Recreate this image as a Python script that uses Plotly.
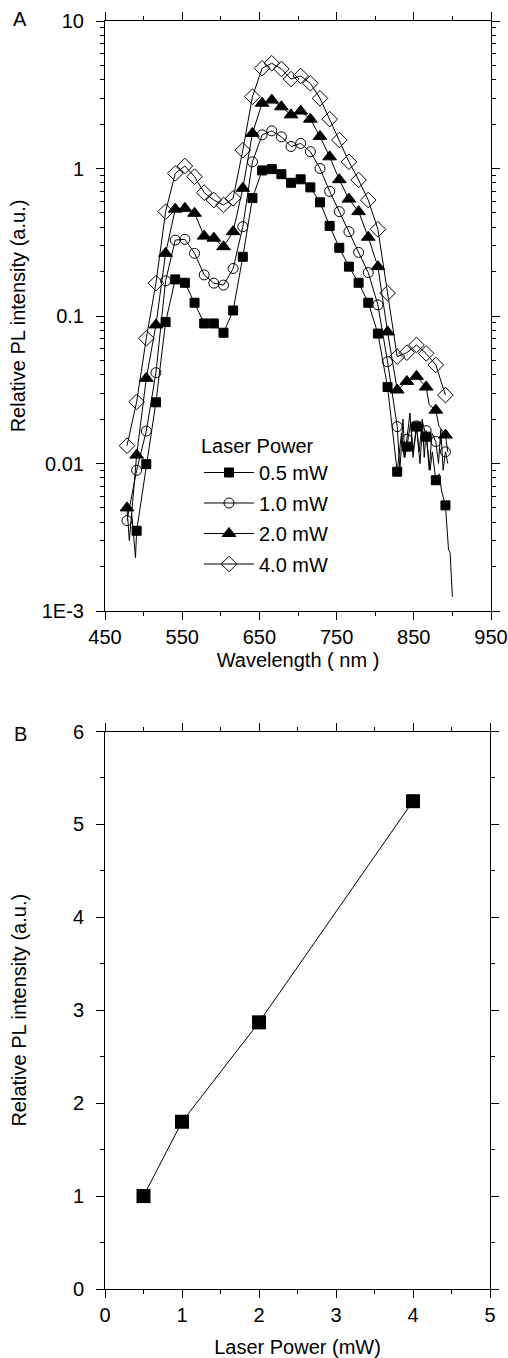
import plotly.graph_objects as go

# ---------------- Panel A data ----------------
wavelength = [478.5, 491, 503.5, 516, 528.5, 541, 553.5, 566, 578.5, 591, 603.5, 616,
              628.5, 641, 653.5, 666, 678.5, 691, 703.5, 716, 728.5, 741, 753.5, 766,
              778.5, 791, 803.5, 816, 828.5, 841, 853.5, 866, 878.5, 891]

pl_05mw = [None, 0.0035, 0.0099, 0.026, 0.091, 0.177, 0.168, 0.123, 0.089, 0.089, 0.077, 0.109,
           0.252, 0.63, 0.97, 0.99, 0.915, 0.80, 0.845, 0.745, 0.59, 0.408, 0.29, 0.216,
           0.168, 0.123, 0.076, 0.033, 0.0088, 0.013, 0.0178, 0.0152, 0.0077, 0.0052]
pl_10mw = [0.0041, 0.009, 0.0166, 0.0413, 0.173, 0.327, 0.331, 0.266, 0.19, 0.167, 0.162, 0.21,
           0.403, 1.11, 1.69, 1.80, 1.64, 1.41, 1.48, 1.30, 1.0, 0.70, 0.51, 0.373,
           0.27, 0.197, 0.119, 0.049, 0.0178, 0.0146, 0.018, 0.0167, 0.0141, 0.012]
pl_20mw = [0.005, 0.0114, 0.0378, 0.087, 0.266, 0.53, 0.537, 0.497, 0.348, 0.337, 0.295, 0.373,
           0.734, 1.73, 2.77, 2.91, 2.62, 2.31, 2.45, 2.16, 1.65, 1.20, 0.84, 0.62,
           0.51, 0.342, 0.216, 0.078, 0.0315, 0.036, 0.039, 0.033, 0.023, 0.0156]
pl_40mw = [0.0132, 0.0262, 0.0706, 0.167, 0.51, 0.927, 1.04, 0.88, 0.686, 0.611, 0.566, 0.628,
           1.33, 3.07, 4.78, 5.17, 4.73, 4.04, 4.24, 3.78, 2.99, 2.16, 1.56, 1.11,
           0.836, 0.611, 0.387, 0.143, 0.053, 0.0564, 0.0636, 0.0558, 0.0466, 0.0291]

# extra (unmarked) points of the measured traces: noisy parts of the spectra
extra_05_wl = [484.5, 489.5, 834, 837.5, 846, 849, 858, 861.5, 871, 874, 883, 886, 895, 897, 900]
extra_05_val = [0.0046, 0.0023, 0.016, 0.011, 0.019, 0.012, 0.010, 0.019, 0.009, 0.012, 0.0085,
                0.0065, 0.0026, 0.0025, 0.00125]
extra_10_wl = [832, 836, 838.5, 845, 849, 857, 861, 863.5, 870, 873.5, 882, 885, 888, 894]
extra_10_val = [0.009, 0.020, 0.011, 0.022, 0.011, 0.012, 0.020, 0.011, 0.009, 0.016, 0.010,
                0.017, 0.009, 0.010]
extra_20_wl = [481.5, 870, 882.5, 894]
extra_20_val = [0.0030, 0.025, 0.018, 0.012]
extra_40_wl = []
extra_40_val = []

series_names = ["0.5 mW", "1.0 mW", "2.0 mW", "4.0 mW"]
series_vals = [pl_05mw, pl_10mw, pl_20mw, pl_40mw]
series_extra = [(extra_05_wl, extra_05_val), (extra_10_wl, extra_10_val),
                (extra_20_wl, extra_20_val), (extra_40_wl, extra_40_val)]

# ---------------- Panel B data ----------------
laser_power = [0.5, 1, 2, 4]
rel_intensity = [1.0, 1.8, 2.87, 5.25]

# ---------------- styles ----------------
symbols = ["square", "circle-open", "triangle-up", "diamond-open"]
sizes = [9, 10, 12, 12]
FONT = "Arial, Liberation Sans, sans-serif"
W, H = 508, 1358

fig = go.Figure()

for name, vals, (ewl, ev), sym, sz in zip(series_names, series_vals, series_extra, symbols, sizes):
    pts = [(w, v) for w, v in zip(wavelength, vals) if v is not None]
    mx = [p[0] for p in pts]
    my = [p[1] for p in pts]
    dense = sorted(pts + list(zip(ewl, ev)))
    fig.add_trace(go.Scatter(x=[p[0] for p in dense], y=[p[1] for p in dense], mode="lines",
                             line=dict(color="black", width=1), showlegend=False,
                             hoverinfo="skip", xaxis="x", yaxis="y"))
    fig.add_trace(go.Scatter(x=mx, y=my, mode="markers", showlegend=False,
                             marker=dict(symbol=sym, size=sz, color="black",
                                         line=dict(color="black", width=1)),
                             xaxis="x", yaxis="y"))
    # legend entry
    fig.add_trace(go.Scatter(x=[None], y=[None], mode="lines+markers", name=name,
                             legendgroup=name,
                             line=dict(color="black", width=1),
                             marker=dict(symbol=sym, size=sz, color="black",
                                         line=dict(color="black", width=1)),
                             xaxis="x", yaxis="y"))

fig.add_trace(go.Scatter(x=laser_power, y=rel_intensity, mode="lines+markers",
                         line=dict(color="black", width=1),
                         marker=dict(symbol="square", size=14, color="black"),
                         showlegend=False, xaxis="x2", yaxis="y2"))

axis_common = dict(showline=True, linecolor="black", linewidth=1, mirror="allticks",
                   ticks="outside", ticklen=8, tickwidth=1, tickcolor="black",
                   showgrid=False, zeroline=False, automargin=False,
                   tickfont=dict(family=FONT, size=20, color="black"))

fig.update_layout(
    template="none",
    width=W, height=H, autosize=False,
    margin=dict(l=0, r=0, t=0, b=0, pad=0),
    paper_bgcolor="white", plot_bgcolor="white",
    font=dict(family=FONT, size=20, color="black"),
    xaxis=dict(domain=[105 / W, 491 / W], range=[450, 950], tick0=450, dtick=100,
               anchor="y",
               minor=dict(dtick=50, ticks="outside", ticklen=4, tickcolor="black"),
               title=dict(text="Wavelength ( nm )", standoff=5,
                          font=dict(family=FONT, size=20)),
               **axis_common),
    yaxis=dict(domain=[1 - 611 / H, 1 - 21 / H], type="log", range=[-3, 1], anchor="x",
               tickvals=[0.001, 0.01, 0.1, 1, 10], ticktext=["1E-3", "0.01", "0.1", "1", "10"],
               ticklabelstandoff=8,
               minor=dict(ticks="outside", ticklen=4, tickcolor="black", dtick="D1"),
               title=dict(text="Relative PL intensity (a.u.)", standoff=10,
                          font=dict(family=FONT, size=20)),
               **axis_common),
    xaxis2=dict(domain=[105 / W, 490 / W], range=[0, 5], dtick=1, anchor="y2",
                minor=dict(dtick=0.5, ticks="outside", ticklen=4, tickcolor="black"),
                title=dict(text="Laser Power (mW)", standoff=15,
                           font=dict(family=FONT, size=20)),
                **axis_common),
    yaxis2=dict(domain=[1 - 1289 / H, 1 - 731.5 / H], range=[0, 6], dtick=1, anchor="x2",
                ticklabelstandoff=8,
                minor=dict(dtick=0.5, ticks="outside", ticklen=4, tickcolor="black"),
                title=dict(text="Relative PL intensity (a.u.)", standoff=40,
                           font=dict(family=FONT, size=20)),
                **axis_common),
    legend=dict(x=199 / W, y=1 - 427 / H, xanchor="left", yanchor="top",
                bgcolor="rgba(0,0,0,0)", itemwidth=50, traceorder="grouped",
                font=dict(family=FONT, size=20, color="black"),
                title=dict(text="Laser Power", font=dict(family=FONT, size=20)),
                tracegroupgap=1.5),
    annotations=[
        dict(text="A", x=20 / W, y=1 - 19 / H, xref="paper", yref="paper",
             xanchor="center", yanchor="middle",
             showarrow=False, font=dict(family=FONT, size=20, color="black")),
        dict(text="B", x=20 / W, y=1 - 734 / H, xref="paper", yref="paper",
             xanchor="center", yanchor="middle",
             showarrow=False, font=dict(family=FONT, size=20, color="black")),
    ],
)

fig.write_html("out.html")
